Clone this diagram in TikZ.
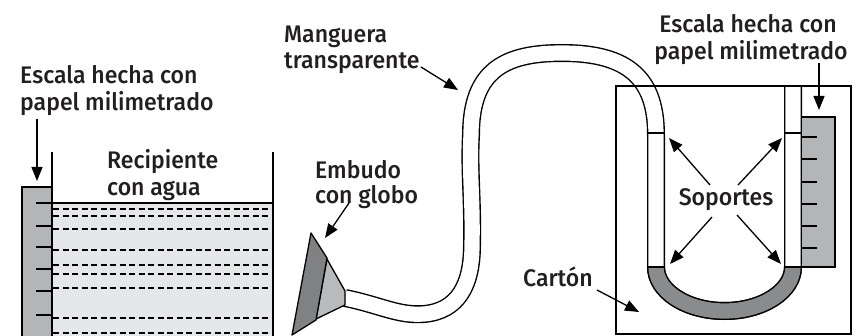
\documentclass[tikz,border=0pt]{standalone}
\usepackage{fontspec}
\setmainfont{Fira Sans}[UprightFont={* Medium}, FakeStretch=0.96]
\usetikzlibrary{arrows.meta}
\definecolor{water}{HTML}{E6E7E8}
\definecolor{scalegray}{HTML}{B4B5B7}
\definecolor{fluid}{HTML}{8A8B8D}
\definecolor{funneldark}{HTML}{808183}
\definecolor{funnellight}{HTML}{B9BABC}
\definecolor{ink}{HTML}{231F20}
\begin{document}
\begin{tikzpicture}[x=1pt,y=-1pt,
  outline/.style={line width=1.3pt},
  caption/.style={font=\fontsize{24}{27}\selectfont, text=ink, inner sep=0pt},
  pointer/.style={line width=1.3pt, -{Triangle[length=14pt,width=11pt]}},
  scaletick/.style={line width=1.3pt},
  waterline/.style={line width=1.2pt, dash pattern=on 6pt off 3.5pt},
  tube/.style={line width=1.4pt, double=white, double distance=15.2pt},
]
\useasboundingbox (0,0) rectangle (861,336);

% ---- container with water and graph-paper scale ----
\fill[water] (52,203) rectangle (273,336);
\foreach \yy in {209,216,229,250,265,274,288,318,333}
  \draw[waterline] (53,\yy) -- (273,\yy);
\draw[outline] (52,203) -- (273,203);
\filldraw[outline, fill=scalegray] (22,340) -- (22,187) -- (52,187) -- (52,340);
\foreach \yy in {203,226,247,269,291,315}
  \draw[scaletick] (36,\yy) -- (52,\yy);
\draw[line width=1.5pt] (52,152) -- (52,340);
\draw[line width=1.5pt] (273,152) -- (273,340);

% ---- hose ----
\draw[tube] (345,298) .. controls (380,305) and (398,316) .. (424,314)
  .. controls (458,311) and (472,285) .. (472,245)
  .. controls (473,200) and (469,170) .. (471,135)
  .. controls (471,70) and (505,53) .. (562,53)
  .. controls (630,53) and (656,80) .. (656,135)
  -- (656,267)
  .. controls (656,291.3) and (686.7,311) .. (724.5,311)
  .. controls (762.3,311) and (793,291.3) .. (793,267)
  -- (793,86);
% liquid in the U
\draw[tube, double=fluid] (656,267)
  .. controls (656,291.3) and (686.7,311) .. (724.5,311)
  .. controls (762.3,311) and (793,291.3) .. (793,267);
% support limits
\draw[outline] (647.7,133) -- (664.3,133);
\draw[outline] (784.7,133) -- (801.3,133);
\draw[outline] (647.7,267) -- (664.3,267);
\draw[outline] (784.7,267) -- (801.3,267);

% ---- funnel with balloon ----
\filldraw[outline, fill=funnellight, line join=round] (327,259) -- (345,291) -- (345,305) -- (316,319) -- cycle;
\filldraw[outline, fill=funneldark, line join=round] (311,233) -- (327,258) -- (316,320) -- (292,335) -- cycle;

% ---- right scale and cardboard ----
\filldraw[outline, fill=scalegray] (801.3,117) rectangle (835,267);
\foreach \yy in {137,159,182,204,226,248}
  \draw[scaletick] (801,\yy) -- (817,\yy);
\draw[outline] (616,86) rectangle (851,334);

% ---- labels ----
\node[caption, anchor=base west] (scaleAa) at (20,84) {Escala hecha con};
\node[caption, anchor=base west] (scaleAb) at (20,111) {papel milimetrado};
\node[caption, anchor=base] (scaleBa) at (748,33) {Escala hecha con};
\node[caption, anchor=base] (scaleBb) at (751,60) {papel milimetrado};
\node[caption, anchor=base west] (vesselA) at (107,169) {Recipiente};
\node[caption, anchor=base west] (vesselB) at (107,196) {con agua};
\node[caption, anchor=base west] (hoseA) at (284,43) {Manguera};
\node[caption, anchor=base west] (hoseB) at (284,69) {transparente};
\node[caption, anchor=base west] (funnelA) at (315,179) {Embudo};
\node[caption, anchor=base west] (funnelB) at (315,204) {con globo};
\node[caption, anchor=base] (supports) at (726,206) {Soportes};
\node[caption, anchor=base west] (board) at (523,287) {Cartón};

% ---- pointers ----
\coordinate (scaleAtail) at (37,119);
\coordinate (scaleAtip) at (37,181);
\coordinate (scaleBtail) at (819,63);
\coordinate (scaleBtip) at (819,110);
\coordinate (hoseTail) at (421,67);
\coordinate (hoseTip) at (458,90);
\coordinate (funnelTail) at (349,203);
\coordinate (funnelTip) at (325,238);
\coordinate (boardTail) at (597,290);
\coordinate (boardTip) at (639,312);
\coordinate (supULtail) at (710,185);
\coordinate (supULtip) at (669,138);
\coordinate (supURtail) at (738,185);
\coordinate (supURtip) at (782,138);
\coordinate (supLLtail) at (712,217);
\coordinate (supLLtip) at (670,264);
\coordinate (supLRtail) at (737,215);
\coordinate (supLRtip) at (781,264);
\draw[pointer] (scaleAtail) -- (scaleAtip);
\draw[pointer] (scaleBtail) -- (scaleBtip);
\draw[pointer] (hoseTail) -- (hoseTip);
\draw[pointer] (funnelTail) -- (funnelTip);
\draw[pointer] (boardTail) -- (boardTip);
\draw[pointer] (supULtail) -- (supULtip);
\draw[pointer] (supURtail) -- (supURtip);
\draw[pointer] (supLLtail) -- (supLLtip);
\draw[pointer] (supLRtail) -- (supLRtip);
\end{tikzpicture}
\end{document}
